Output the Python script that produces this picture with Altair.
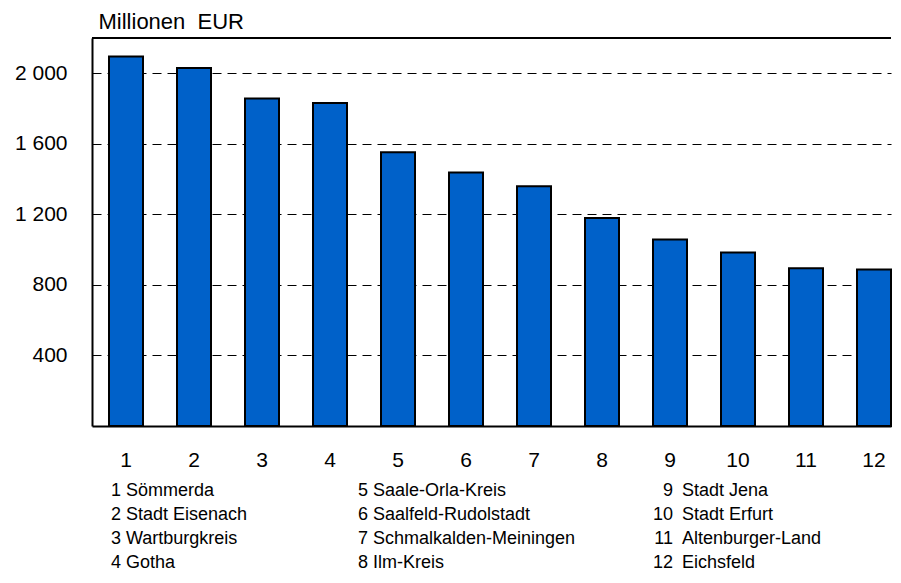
import altair as alt
import pandas as pd

# ---- data ----
numbers = list(range(1, 13))
districts = [
    "Sömmerda", "Stadt Eisenach", "Wartburgkreis", "Gotha",
    "Saale-Orla-Kreis", "Saalfeld-Rudolstadt", "Schmalkalden-Meiningen", "Ilm-Kreis",
    "Stadt Jena", "Stadt Erfurt", "Altenburger-Land", "Eichsfeld",
]
values = [2095, 2030, 1857, 1831, 1552, 1438, 1359, 1179, 1058, 984, 894, 888]
y_ticks = [400, 800, 1200, 1600, 2000]
y_max = 2200
unit_label = "Millionen\u00a0 EUR"

# ---- layout / style ----
FONT = "Liberation Sans, Arial, Helvetica, sans-serif"
W, H = 799, 388
LEG_X = [19, 266, 590]
BAR_BLUE = "#0061c9"

nr_str = [str(n) for n in numbers]
bars_df = pd.DataFrame({"nr": nr_str, "name": districts, "value": values})

x_enc = alt.X(
    "nr:O", sort=nr_str,
    scale=alt.Scale(paddingInner=0.5, paddingOuter=0.125, align=1),
    axis=alt.Axis(title=None, labelAngle=0, labelFontSize=21, labelPadding=23,
                  ticks=False, tickSize=0, domainColor="black", domainWidth=2,
                  labelColor="black", labelFont=FONT),
)
y_enc = alt.Y(
    "value:Q",
    scale=alt.Scale(domain=[0, y_max], nice=False),
    axis=alt.Axis(values=y_ticks, title=unit_label,
                  titleAngle=0, titleAlign="left", titleBaseline="alphabetic",
                  titleX=6, titleY=-10, titleFontSize=22, titleFontWeight="normal",
                  titleColor="black", titleFont=FONT,
                  labelExpr="replace(format(datum.value, ','), ',', ' ')",
                  ticks=False, tickSize=0, labelPadding=25, labelFontSize=21,
                  labelColor="black", labelFont=FONT,
                  grid=True, gridDash=[9, 6], gridColor="black", gridWidth=1,
                  domainColor="black", domainWidth=2),
)

bars = alt.Chart(bars_df).mark_bar(fill=BAR_BLUE, stroke="black", strokeWidth=2).encode(
    x=x_enc, y=y_enc
)
top_rule = alt.Chart(pd.DataFrame({"v": [y_max]})).mark_rule(
    color="black", strokeWidth=2
).encode(y=alt.Y("v:Q"))

top = alt.layer(bars, top_rule).properties(width=W, height=H)

# ---- legend panel ----
leg_df = pd.DataFrame({
    "nr": nr_str,
    "name": districts,
    "col": [(n - 1) // 4 for n in numbers],
    "row": [(n - 1) % 4 for n in numbers],
})
leg_df["label"] = leg_df["nr"] + " " + leg_df["name"]

lx = alt.X("col:Q", scale=alt.Scale(domain=[0, 1, 2], range=LEG_X, zero=False, nice=False), axis=None)
ly = alt.Y("row:O", scale=alt.Scale(padding=0), axis=None)
txt = dict(baseline="middle", fontSize=18, font=FONT, color="black")

leg_a = alt.Chart(leg_df).transform_filter("datum.col < 2").mark_text(align="left", **txt).encode(
    x=lx, y=ly, text="label:N")
leg_b = alt.Chart(leg_df).transform_filter("datum.col == 2").mark_text(align="right", dx=-9, **txt).encode(
    x=lx, y=ly, text="nr:N")
leg_c = alt.Chart(leg_df).transform_filter("datum.col == 2").mark_text(align="left", **txt).encode(
    x=lx, y=ly, text="name:N")

legend = alt.layer(leg_a, leg_b, leg_c).properties(width=W, height=72)

chart = alt.vconcat(top, legend, spacing=65, bounds="flush").properties(
    padding={"left": 6, "top": 2, "right": 0, "bottom": 0}
).configure(font=FONT).configure_view(strokeWidth=0, stroke="transparent")

chart.save("out.html", embed_options={"renderer": "svg", "actions": False})
